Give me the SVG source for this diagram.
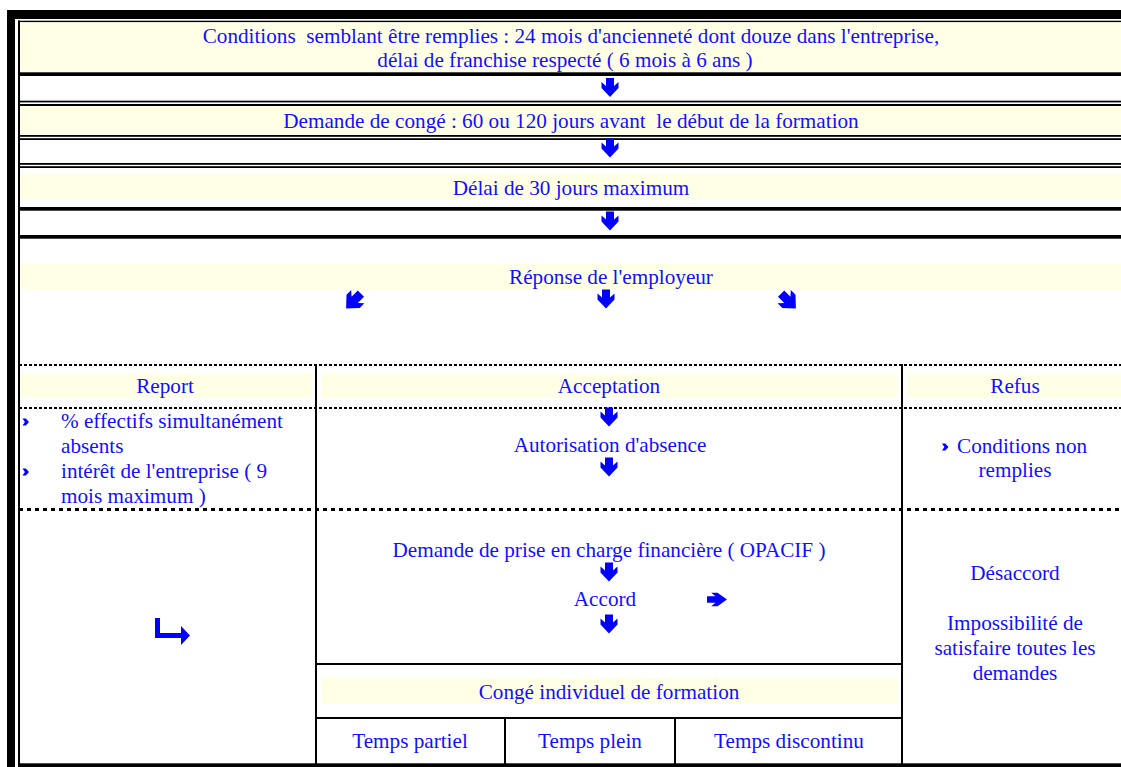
<svg xmlns="http://www.w3.org/2000/svg" width="1121" height="767" viewBox="0 0 1121 767">
<style>
text{font-family:"Liberation Serif","Times New Roman",serif;font-size:21.2px;fill:#1010ff;white-space:pre;}
.c{text-anchor:middle;}
.y{fill:#ffffe6;}
.k{fill:#000;}
.d1{stroke:#000;stroke-width:2;stroke-dasharray:3 2;fill:none;}
.d2{stroke:#000;stroke-width:3;stroke-dasharray:4 4;fill:none;}
.v{stroke:#000;stroke-width:2;fill:none;}
.ar{fill:#0000ff;}
</style>
<defs>
<path id="arr" d="M-4,-9.5 H4 V-1.5 L8.5,-5.5 V0.5 L0,9.5 L-8.5,0.5 V-5.5 L-4,-1.5 Z"/>
<path id="bul" d="M0,0 L3.3,0 L6.5,3.5 L3.3,7 L0,7 L2.4,3.5 Z"/>
</defs>
<rect width="1121" height="767" fill="#fff"/>

<g id="frame">
<rect class="k" x="7" y="10" width="8" height="757"/>
<rect class="k" x="7" y="10" width="1114" height="9"/>
<rect class="k" x="18" y="20.5" width="2" height="746.5"/>
<rect class="k" x="18" y="20.7" width="1103" height="1.6"/>
</g>

<g id="n-conditions">
<rect class="y" x="20" y="22.3" width="1101" height="50"/>
<text class="c" x="571" y="43" xml:space="preserve">Conditions  semblant être remplies : 24 mois d'ancienneté dont douze dans l'entreprise,</text>
<text class="c" x="565" y="67">délai de franchise respecté ( 6 mois à 6 ans )</text>
<rect class="k" x="18" y="72.3" width="1103" height="3.7"/>
</g>

<g id="n-demande">
<rect class="k" x="18" y="100.7" width="1103" height="1.7"/>
<rect class="k" x="18" y="104" width="1103" height="2"/>
<rect class="y" x="20" y="106" width="1101" height="29"/>
<text class="c" x="571" y="128" xml:space="preserve">Demande de congé : 60 ou 120 jours avant  le début de la formation</text>
<rect class="k" x="18" y="135" width="1103" height="1.8"/>
<rect class="k" x="18" y="138.2" width="1103" height="1.8"/>
</g>

<g id="n-delai">
<rect class="k" x="18" y="163" width="1103" height="1.8"/>
<rect class="k" x="18" y="166.2" width="1103" height="1.8"/>
<rect class="y" x="20" y="173" width="1101" height="27"/>
<text class="c" x="571" y="195">Délai de 30 jours maximum</text>
<rect class="k" x="18" y="207" width="1103" height="3.7"/>
<rect class="k" x="18" y="235" width="1103" height="3.7"/>
</g>

<g id="n-reponse">
<rect class="y" x="20" y="264" width="1101" height="26"/>
<text class="c" x="611" y="284">Réponse de l'employeur</text>
</g>

<g id="grid">
<path class="d1" d="M19,365 H1121"/>
<path class="d1" d="M19,408 H1121"/>
<path class="d2" d="M19,509.5 H1121"/>
<path class="v" d="M316,364 V764"/>
<path class="v" d="M902,364 V764"/>
<path class="v" d="M316,664 H902"/>
<path class="v" d="M316,718 H902"/>
<path class="v" d="M505,718 V764"/>
<path class="v" d="M675,718 V764"/>
<rect class="k" x="18" y="763.3" width="1103" height="3.7"/>
</g>

<g id="n-report">
<rect class="y" x="20" y="373" width="291" height="25"/>
<text class="c" x="165" y="393">Report</text>
<use href="#bul" class="ar" x="22.5" y="418.5"/>
<text x="61" y="428">% effectifs simultanément</text>
<text x="61" y="453">absents</text>
<use href="#bul" class="ar" x="22.5" y="468.5"/>
<text x="61" y="478">intérêt de l'entreprise ( 9</text>
<text x="61" y="503">mois maximum )</text>
</g>

<g id="n-acceptation">
<rect class="y" x="321" y="373" width="576" height="25"/>
<text class="c" x="609" y="393">Acceptation</text>
<text class="c" x="610" y="452">Autorisation d'absence</text>
</g>

<g id="n-refus">
<rect class="y" x="907" y="373" width="214" height="25"/>
<text class="c" x="1015" y="393">Refus</text>
<use href="#bul" class="ar" x="942" y="443.5"/>
<text x="957" y="453">Conditions non</text>
<text class="c" x="1015" y="477">remplies</text>
</g>

<g id="n-opacif">
<text class="c" x="609" y="557">Demande de prise en charge financière ( OPACIF )</text>
<text class="c" x="605" y="606">Accord</text>
</g>

<g id="n-desaccord">
<text class="c" x="1015" y="580">Désaccord</text>
<text class="c" x="1015" y="630">Impossibilité de</text>
<text class="c" x="1015" y="655">satisfaire toutes les</text>
<text class="c" x="1015" y="680">demandes</text>
</g>

<g id="n-cif">
<rect class="y" x="321" y="678" width="576" height="25"/>
<text class="c" x="609" y="699">Congé individuel de formation</text>
</g>

<g id="n-partiel"><text class="c" x="410" y="748">Temps partiel</text></g>
<g id="n-plein"><text class="c" x="590" y="748">Temps plein</text></g>
<g id="n-discontinu"><text class="c" x="789" y="748">Temps discontinu</text></g>

<g id="connectors" class="ar">
<use href="#arr" transform="translate(610,87.5)"/>
<use href="#arr" transform="translate(610,148)"/>
<use href="#arr" transform="translate(610,221)"/>
<use href="#arr" transform="translate(353.5,301) rotate(45) scale(1.1)"/>
<use href="#arr" transform="translate(606,299)"/>
<use href="#arr" transform="translate(788.5,301) rotate(-45) scale(1.1)"/>
<use href="#arr" transform="translate(609,417)"/>
<use href="#arr" transform="translate(609,467)"/>
<use href="#arr" transform="translate(609,572)"/>
<use href="#arr" transform="translate(609,624)"/>
<use href="#arr" transform="translate(717,599.5) rotate(-90) scale(0.8,1.05)"/>
<path d="M155,618 H160 V633 H181 V626 L190,635.5 L181,645 V638 H155 Z"/>
</g>
</svg>
